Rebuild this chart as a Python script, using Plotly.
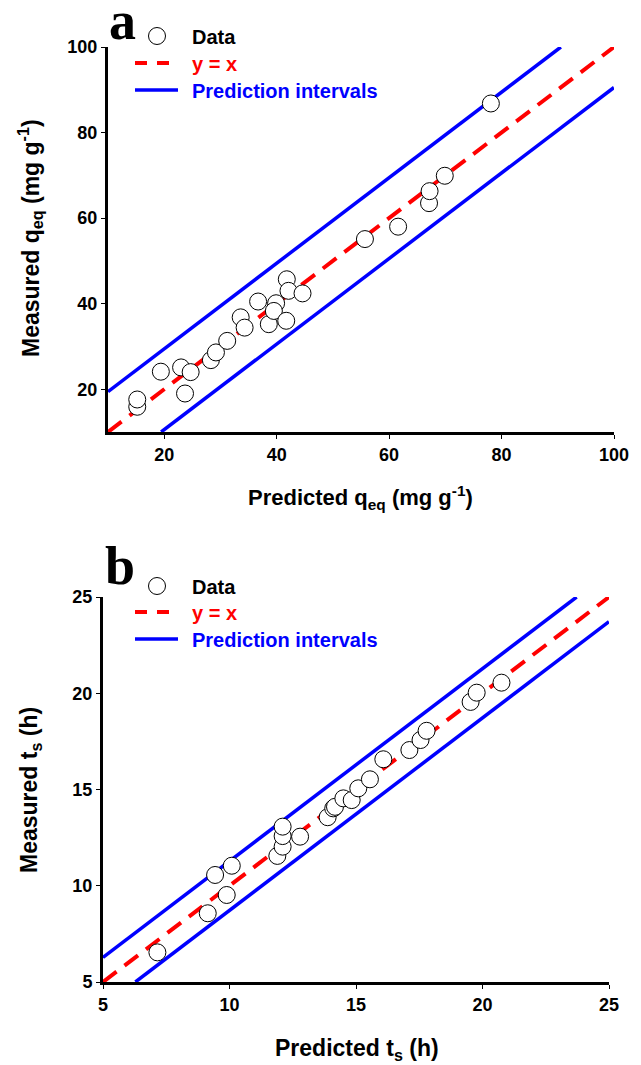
import plotly.graph_objects as go

# ---------------- data ----------------
# Panel a: q_eq (mg g-1)
qeq_pred = [15.2, 15.2, 19.4, 23.0, 24.7, 23.7, 28.3, 29.2, 31.2, 33.6, 34.3, 36.7,
            38.6, 39.9, 39.5, 41.8, 42.1, 44.6, 41.7, 55.7, 61.6, 67.1, 67.2, 69.9, 78.1]
qeq_meas = [15.9, 17.6, 24.1, 25.1, 24.0, 19.0, 26.8, 28.6, 31.3, 36.8, 34.4, 40.5,
            35.2, 40.1, 38.3, 45.7, 43.0, 42.4, 36.0, 55.1, 58.0, 63.5, 66.3, 69.9, 86.8]
qeq_pi = 9.45      # half-width of prediction interval
qeq_range = [10, 100]
qeq_ticks = [20, 40, 60, 80, 100]

# Panel b: t_s (h)
ts_pred = [7.15, 9.14, 9.89, 9.43, 10.09, 11.89, 12.1, 12.79, 12.1, 12.1, 13.88, 14.1,
           14.17, 14.5, 14.83, 15.09, 15.55, 16.08, 17.11, 17.55, 17.79, 19.53, 19.77, 20.75]
ts_meas = [6.54, 8.57, 9.52, 10.56, 11.04, 11.55, 12.03, 12.55, 12.58, 13.07, 13.56, 14.02,
           14.1, 14.54, 14.45, 15.06, 15.53, 16.57, 17.05, 17.57, 18.05, 19.55, 20.03, 20.55]
ts_pi = 1.28
ts_range = [5, 25]
ts_ticks = [5, 10, 15, 20, 25]

legend_labels = ["Data", "y = x", "Prediction intervals"]

# ---------------- layout helpers ----------------
W, H = 641, 1065
FONT = "Liberation Sans"
def px(x): return x / W
def py(y): return 1 - y / H

fig = go.Figure()

panels = [
    dict(xa="x", ya="y", pred=qeq_pred, meas=qeq_meas, pi=qeq_pi, rng=qeq_range,
         ticks=qeq_ticks, dom_x=[px(108), px(614)], dom_y=[py(432), py(47)]),
    dict(xa="x2", ya="y2", pred=ts_pred, meas=ts_meas, pi=ts_pi, rng=ts_range,
         ticks=ts_ticks, dom_x=[px(103), px(609)], dom_y=[py(982), py(597)]),
]

for p in panels:
    lo, hi = p["rng"]
    d = p["pi"]
    # y = x
    fig.add_trace(go.Scatter(x=[lo, hi], y=[lo, hi], mode="lines", xaxis=p["xa"], yaxis=p["ya"],
                             line=dict(color="#ff0000", width=4, dash="17px,10px"),
                             showlegend=False, hoverinfo="skip"))
    # upper / lower prediction intervals
    fig.add_trace(go.Scatter(x=[lo, hi - d], y=[lo + d, hi], mode="lines", xaxis=p["xa"], yaxis=p["ya"],
                             line=dict(color="#0000ff", width=3.5), showlegend=False, hoverinfo="skip"))
    fig.add_trace(go.Scatter(x=[lo + d, hi], y=[lo, hi - d], mode="lines", xaxis=p["xa"], yaxis=p["ya"],
                             line=dict(color="#0000ff", width=3.5), showlegend=False, hoverinfo="skip"))
    # data
    fig.add_trace(go.Scatter(x=p["pred"], y=p["meas"], mode="markers", xaxis=p["xa"], yaxis=p["ya"],
                             marker=dict(symbol="circle", size=17, color="white",
                                         line=dict(color="black", width=1)),
                             cliponaxis=False, showlegend=False))

axis_common = dict(showline=True, linecolor="black", linewidth=3, ticks="outside", ticklen=4,
                   tickwidth=1, tickcolor="black", showgrid=False, zeroline=False, automargin=False,
                   tickfont=dict(family=FONT, size=18, color="black", weight="bold"))

fig.update_layout(
    width=W, height=H, margin=dict(l=0, r=0, t=0, b=0, autoexpand=False),
    plot_bgcolor="white", paper_bgcolor="white", showlegend=False,
    xaxis=dict(domain=panels[0]["dom_x"], range=qeq_range, tickvals=qeq_ticks, anchor="y", **axis_common),
    yaxis=dict(domain=panels[0]["dom_y"], range=qeq_range, tickvals=qeq_ticks, anchor="x", **axis_common),
    xaxis2=dict(domain=panels[1]["dom_x"], range=ts_range, tickvals=ts_ticks, anchor="y2", **axis_common),
    yaxis2=dict(domain=panels[1]["dom_y"], range=ts_range, tickvals=ts_ticks, anchor="x2", **axis_common),
)

ann = []
def text(x, y, s, size, color="black", family=FONT, xanchor="left", angle=0, weight="bold"):
    ann.append(dict(x=px(x), y=py(y), xref="paper", yref="paper", text=s, showarrow=False,
                    xanchor=xanchor, yanchor="middle", textangle=angle,
                    font=dict(family=family, size=size, color=color, weight=weight)))

# axis titles
text(360, 497, "Predicted q<sub>eq</sub> (mg g<sup>-1</sup>)", 22, xanchor="center")
text(30, 238, "Measured q<sub>eq</sub> (mg g<sup>-1</sup>)", 23, xanchor="center", angle=-90)
text(357, 1049, "Predicted t<sub>s</sub> (h)", 23, xanchor="center")
text(30, 790, "Measured t<sub>s</sub> (h)", 23, xanchor="center", angle=-90)

# panel letters
text(122, 21, "a", 54, family="Liberation Serif", xanchor="center")
text(120, 566, "b", 54, family="Liberation Serif", xanchor="center")

shapes = []
# legends
for (mk_y, dash_y, line_y) in [(36, 63, 90), (586, 612, 639)]:
    shapes.append(dict(type="circle", xref="paper", yref="paper",
                       x0=px(157 - 8.5), x1=px(157 + 8.5), y0=py(mk_y + 8.5), y1=py(mk_y - 8.5),
                       line=dict(color="black", width=1), fillcolor="white"))
    shapes.append(dict(type="line", xref="paper", yref="paper", x0=px(135), x1=px(173),
                       y0=py(dash_y), y1=py(dash_y),
                       line=dict(color="#ff0000", width=4, dash="12px,10px")))
    shapes.append(dict(type="line", xref="paper", yref="paper", x0=px(135), x1=px(178),
                       y0=py(line_y), y1=py(line_y), line=dict(color="#0000ff", width=3.5)))
    text(190, mk_y + 1, legend_labels[0], 20, color="black")
    text(190, dash_y + 1, legend_labels[1], 20, color="#ff0000")
    text(190, line_y + 1, legend_labels[2], 20, color="#0000ff")

fig.update_layout(annotations=ann, shapes=shapes)
fig.write_html("out.html", config={"displayModeBar": False},
               post_script="document.body.style.margin='0px';document.body.style.padding='0px';")
